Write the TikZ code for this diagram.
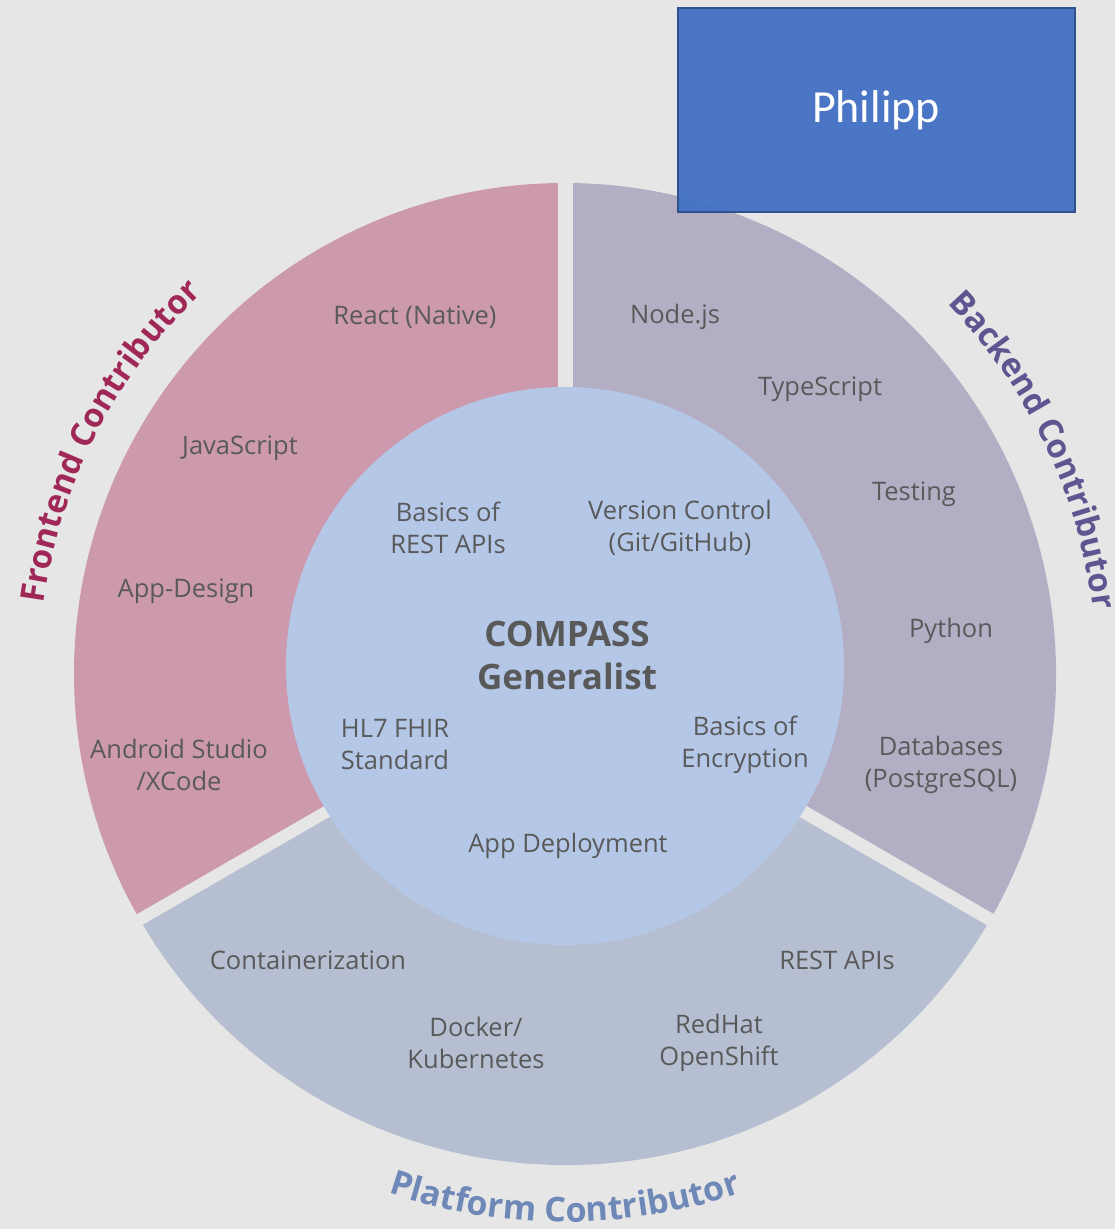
\documentclass[tikz,border=0pt]{standalone}
\usepackage{fontspec}
\setmainfont{Open Sans}
\newfontfamily\calibri{Carlito}
\usetikzlibrary{decorations.text}
\definecolor{bgc}{HTML}{E7E6E6}
\definecolor{frontc}{HTML}{CD9AAD}
\definecolor{backc}{HTML}{B3AEC4}
\definecolor{platc}{HTML}{B6BFD2}
\definecolor{innerc}{HTML}{B4C7E7}
\definecolor{txtc}{HTML}{595959}
\definecolor{frontl}{HTML}{A02858}
\definecolor{backl}{HTML}{5E5690}
\definecolor{platl}{HTML}{6E88B8}
\definecolor{boxc}{HTML}{4472C4}
\definecolor{boxb}{HTML}{2F528F}
\tikzset{
  lbl/.style={inner sep=0pt, align=center, text=txtc, font=\fontsize{25.5}{32}\selectfont},
  gap/.style={bgc, line width=13pt},
}
\begin{document}
\begin{tikzpicture}[x=1pt,y=1pt]
\fill[bgc] (0,0) rectangle (1115,1229);
\useasboundingbox (0,0) rectangle (1115,1229);
\coordinate (C) at (565,555);
\coordinate (I) at (565,563);
% sectors
\fill[frontc] (C) -- ([shift={(90:491)}]C) arc[start angle=90, end angle=210, radius=491] -- cycle;
\fill[platc] (C) -- ([shift={(210:491)}]C) arc[start angle=210, end angle=330, radius=491] -- cycle;
\fill[backc] (C) -- ([shift={(330:491)}]C) arc[start angle=-30, end angle=90, radius=491] -- cycle;
% gaps
\coordinate (g1) at ([shift={(90:510)}]C);
\coordinate (g2) at ([shift={(210:510)}]C);
\coordinate (g3) at ([shift={(330:510)}]C);
\draw[gap, line width=15pt] (C) -- (g1);
\draw[gap, line width=12pt] (C) -- (g2);
\draw[gap, line width=13pt] (C) -- (g3);
% inner circle
\fill[innerc] (I) circle[radius=279];
% curved titles
\path[decorate, decoration={text along path, text align=center, text color=frontl,
  text={|\fontsize{33}{33}\selectfont\bfseries|Frontend Contributor}}]
  ([shift={(182:526)}]C) arc[start angle=182, end angle=124, radius=526];
\path[decorate, decoration={text along path, text align=center, text color=backl,
  text={|\fontsize{33}{33}\selectfont\bfseries|Backend Contributor}}]
  ([shift={(55:532)}]C) arc[start angle=55, end angle=-4, radius=532];
\path[decorate, decoration={text along path, text align=center, text color=platl,
  text={|\fontsize{34}{34}\selectfont\bfseries|Platform Contributor}}]
  ([shift={(240:548)}]C) arc[start angle=240, end angle=300, radius=548];
% labels
\node[lbl] (react) at (415,912) {React (Native)};
\node[lbl] (js) at (240,781) {JavaScript};
\node[lbl] (appd) at (186,638) {App-Design};
\node[lbl] (android) at (179,464) {Android Studio\\/XCode};
\node[lbl] (node) at (675,912) {Node.js};
\node[lbl] (ts) at (820,840) {TypeScript};
\node[lbl] (test) at (914,735) {Testing};
\node[lbl] (py) at (951,598) {Python};
\node[lbl] (db) at (941,464) {Databases\\(PostgreSQL)};
\node[lbl] (rest1) at (448,701) {Basics of\\REST APIs};
\node[lbl] (vc) at (680,701) {Version Control\\(Git/GitHub)};
\node[lbl, font=\fontsize{35}{43}\selectfont\bfseries] (comp) at (567,574) {COMPASS\\Generalist};
\node[lbl] (hl7) at (395,484) {HL7 FHIR\\Standard};
\node[lbl] (enc) at (745,484) {Basics of\\Encryption};
\node[lbl] (deploy) at (568,383) {App Deployment};
\node[lbl] (cont) at (308,269) {Containerization};
\node[lbl] (rest2) at (837,269) {REST APIs};
\node[lbl] (dock) at (476,186) {Docker/\\Kubernetes};
\node[lbl] (rh) at (719,186) {RedHat\\OpenShift};
% Philipp box
\node[draw=boxb, line width=2pt, fill=boxc, fill opacity=0.96, text opacity=1, text=white,
  minimum width=397pt, minimum height=204pt, inner sep=0pt,
  font=\calibri\fontsize{46}{50}\selectfont] (phil) at (876,1119) {Philipp};
\end{tikzpicture}
\end{document}
